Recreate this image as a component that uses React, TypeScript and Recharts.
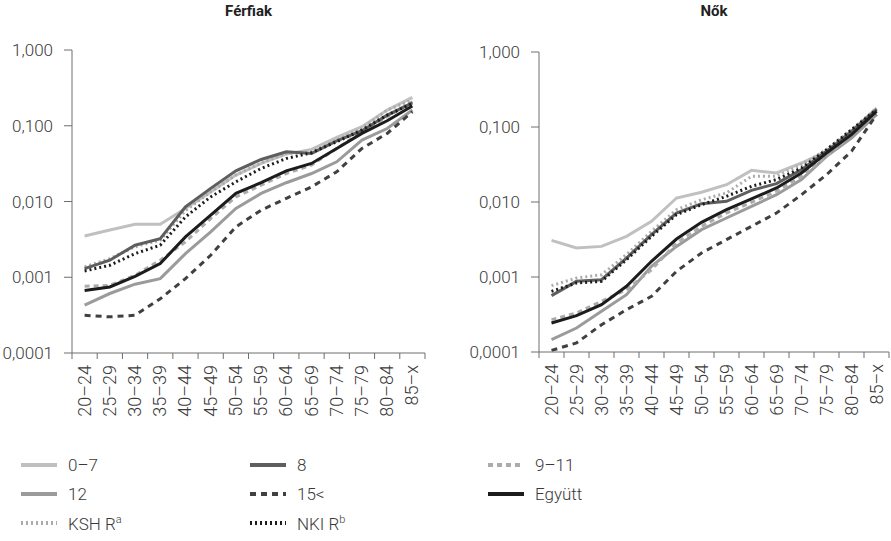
import { Line, LineChart, XAxis, YAxis } from "recharts";

const AGE_GROUPS = [
  "20–24", "25–29", "30–34", "35–39", "40–44", "45–49", "50–54",
  "55–59", "60–64", "65–69", "70–74", "75–79", "80–84", "85–x",
];

const Y_TICKS = [0.0001, 0.001, 0.01, 0.1, 1];

// Férfiak
const MEN_0_7 = [0.0035, 0.0042, 0.005, 0.005, 0.0081, 0.0134, 0.0223, 0.0318, 0.0422, 0.0487, 0.07, 0.097, 0.161, 0.237];
const MEN_8 = [0.0013, 0.00168, 0.00265, 0.00324, 0.0085, 0.0149, 0.0254, 0.0359, 0.0453, 0.0431, 0.0632, 0.0859, 0.138, 0.201];
const MEN_9_11 = [0.00076, 0.00078, 0.00106, 0.00168, 0.00293, 0.00596, 0.0115, 0.0164, 0.0234, 0.0302, 0.0502, 0.0834, 0.1315, 0.2075];
const MEN_12 = [0.00043, 0.00061, 0.00081, 0.00096, 0.00205, 0.00397, 0.00808, 0.0128, 0.0177, 0.0234, 0.0334, 0.0646, 0.092, 0.161];
const MEN_15 = [0.000315, 0.0003, 0.000315, 0.00052, 0.00096, 0.00195, 0.00462, 0.00768, 0.011, 0.0156, 0.0247, 0.0502, 0.0792, 0.153];
const MEN_ALL = [0.00067, 0.000745, 0.00103, 0.00152, 0.00341, 0.00659, 0.0128, 0.0177, 0.0254, 0.0318, 0.0502, 0.0792, 0.1165, 0.182];
const MEN_KSH = [0.00137, 0.00176, 0.00252, 0.00308, 0.0076, 0.0134, 0.0223, 0.0322, 0.0431, 0.0453, 0.0646, 0.0922, 0.161, 0.218];
const MEN_NKI = [0.00121, 0.00144, 0.00205, 0.00265, 0.00627, 0.0115, 0.0182, 0.0273, 0.037, 0.044, 0.0615, 0.0877, 0.138, 0.197];

// Nők
const WOMEN_0_7 = [0.00308, 0.00244, 0.00256, 0.00348, 0.00553, 0.0113, 0.0135, 0.017, 0.0264, 0.0244, 0.0331, 0.0474, 0.0875, 0.179];
const WOMEN_8 = [0.000564, 0.000875, 0.00092, 0.00179, 0.00367, 0.00713, 0.0095, 0.0102, 0.0143, 0.0176, 0.027, 0.0474, 0.0875, 0.17];
const WOMEN_9_11 = [0.00027, 0.000331, 0.000474, 0.000678, 0.00125, 0.00284, 0.00474, 0.00713, 0.0099, 0.0139, 0.022, 0.0406, 0.079, 0.162];
const WOMEN_12 = [0.000146, 0.000209, 0.000349, 0.000581, 0.00139, 0.00256, 0.00428, 0.00612, 0.00875, 0.0125, 0.0199, 0.0406, 0.0713, 0.146];
const WOMEN_15 = [0.000105, 0.000132, 0.000231, 0.000367, 0.000552, 0.00119, 0.00209, 0.00315, 0.00474, 0.00713, 0.0125, 0.0231, 0.0474, 0.146];
const WOMEN_ALL = [0.000244, 0.000305, 0.000428, 0.000751, 0.00162, 0.00321, 0.00536, 0.0079, 0.011, 0.0154, 0.0244, 0.045, 0.079, 0.162];
const WOMEN_KSH = [0.000766, 0.00097, 0.00107, 0.00199, 0.00406, 0.0079, 0.0107, 0.0132, 0.022, 0.022, 0.0315, 0.0499, 0.092, 0.179];
const WOMEN_NKI = [0.000644, 0.000832, 0.000875, 0.0017, 0.00348, 0.00678, 0.0092, 0.0119, 0.0162, 0.0199, 0.0284, 0.0499, 0.092, 0.17];

const FONT = "Roboto, 'Noto Sans', sans-serif";
const TEXT = "#3a3a3a";
const AXIS = "#6e6e6e";

type Style = { key: string; name: string; color: string; dash?: string };

// drawing order: light lines below, black on top
const STYLES: Style[] = [
  { key: "s07", name: "0–7", color: "#c0c0c0" },
  { key: "s12", name: "12", color: "#9b9b9b" },
  { key: "s911", name: "9–11", color: "#ababab", dash: "5 4" },
  { key: "ksh", name: "KSH R", color: "#ababab", dash: "2 3" },
  { key: "s8", name: "8", color: "#5e5e5e" },
  { key: "s15", name: "15<", color: "#404040", dash: "6 5" },
  { key: "nki", name: "NKI R", color: "#1c1c1c", dash: "2 3" },
  { key: "all", name: "Együtt", color: "#1c1c1c" },
];

const LEGEND_ORDER = ["s07", "s8", "s911", "s12", "s15", "all", "ksh", "nki"];

function buildRows(series: Record<string, number[]>) {
  return AGE_GROUPS.map((label, i) => {
    const row: Record<string, number | string> = { label, pos: i + 0.5 };
    for (const k of Object.keys(series)) row[k] = series[k][i];
    return row;
  });
}

const menRows = buildRows({
  s07: MEN_0_7, s8: MEN_8, s911: MEN_9_11, s12: MEN_12,
  s15: MEN_15, all: MEN_ALL, ksh: MEN_KSH, nki: MEN_NKI,
});
const womenRows = buildRows({
  s07: WOMEN_0_7, s8: WOMEN_8, s911: WOMEN_9_11, s12: WOMEN_12,
  s15: WOMEN_15, all: WOMEN_ALL, ksh: WOMEN_KSH, nki: WOMEN_NKI,
});

const fmt = (v: number) => v.toFixed(v < 0.001 ? 4 : 3).replace(".", ",");

const BOUNDS = AGE_GROUPS.map((_, i) => i).concat(AGE_GROUPS.length);

function Panel(props: {
  title: string;
  rows: Record<string, number | string>[];
  left: number;
  width: number;
  yWidth: number;
  marginTop: number;
  marginRight: number;
  marginBottom: number;
}) {
  const { title, rows, left, width, yWidth, marginTop, marginRight, marginBottom } = props;
  const height = 440;
  const band = (width - yWidth - marginRight) / AGE_GROUPS.length;

  const XTick = (p: any) => {
    const i = p.payload.value;
    if (i >= AGE_GROUPS.length) return <g />;
    return (
      <text
        transform={`translate(${p.x + band / 2 + 6},${p.y}) rotate(-90)`}
        textAnchor="end"
        fontSize={18}
        fontWeight={300}
        fontFamily={FONT}
        fill={TEXT}
      >
        {AGE_GROUPS[i]}
      </text>
    );
  };

  return (
    <div style={{ position: "absolute", left, top: 0, width, height }}>
      <div
        style={{
          position: "absolute",
          top: 2,
          left: yWidth,
          width: width - yWidth - marginRight,
          textAlign: "center",
          fontFamily: FONT,
          fontWeight: 700,
          fontSize: 15,
          color: "#222",
        }}
      >
        {title}
      </div>
      <LineChart
        width={width}
        height={height}
        data={rows}
        margin={{ top: marginTop, right: marginRight, left: 0, bottom: marginBottom }}
      >
        <XAxis
          dataKey="pos"
          type="number"
          domain={[0, AGE_GROUPS.length]}
          ticks={BOUNDS}
          interval={0}
          height={80}
          stroke={AXIS}
          tickSize={6}
          tickMargin={6}
          tick={XTick}
        />
        <YAxis
          scale="log"
          domain={[0.0001, 1]}
          ticks={Y_TICKS}
          allowDataOverflow
          width={yWidth}
          stroke={AXIS}
          tickSize={8}
          tickMargin={11}
          tickFormatter={fmt}
          tick={{ fill: TEXT, fontSize: 17, fontFamily: FONT, fontWeight: 300 }}
        />
        {STYLES.map((s) => (
          <Line
            key={s.key}
            dataKey={s.key}
            name={s.name}
            stroke={s.color}
            strokeWidth={3}
            strokeDasharray={s.dash}
            dot={false}
            activeDot={false}
            isAnimationActive={false}
          />
        ))}
      </LineChart>
    </div>
  );
}

function Legend() {
  const cols = [21, 250, 488];
  const rowsY = [465, 494, 523];
  return (
    <>
      {LEGEND_ORDER.map((k, idx) => {
        const s = STYLES.find((x) => x.key === k)!;
        const x = cols[idx % 3];
        const y = rowsY[Math.floor(idx / 3)];
        const sup = k === "ksh" ? "a" : k === "nki" ? "b" : null;
        return (
          <div
            key={k}
            style={{
              position: "absolute",
              left: x,
              top: y - 12,
              height: 24,
              display: "flex",
              alignItems: "center",
              fontFamily: FONT,
              fontWeight: 300,
              fontSize: 17,
              color: TEXT,
              whiteSpace: "nowrap",
            }}
          >
            <svg width={36} height={6} style={{ marginRight: 11 }}>
              <line x1={0} y1={3} x2={36} y2={3} stroke={s.color} strokeWidth={4} strokeDasharray={s.dash} />
            </svg>
            <span>
              {s.name}
              {sup && <sup style={{ fontSize: 11 }}>{sup}</sup>}
            </span>
          </div>
        );
      })}
    </>
  );
}

export default function App() {
  return (
    <div style={{ position: "absolute", left: 0, top: 0, width: 891, height: 541, background: "#fff" }}>
      <Panel
        title="Férfiak"
        rows={menRows}
        left={0}
        width={440}
        yWidth={72}
        marginTop={50}
        marginRight={15}
        marginBottom={7}
      />
      <Panel
        title="Nők"
        rows={womenRows}
        left={445}
        width={446}
        yWidth={94}
        marginTop={52}
        marginRight={2}
        marginBottom={8}
      />
      <Legend />
    </div>
  );
}
